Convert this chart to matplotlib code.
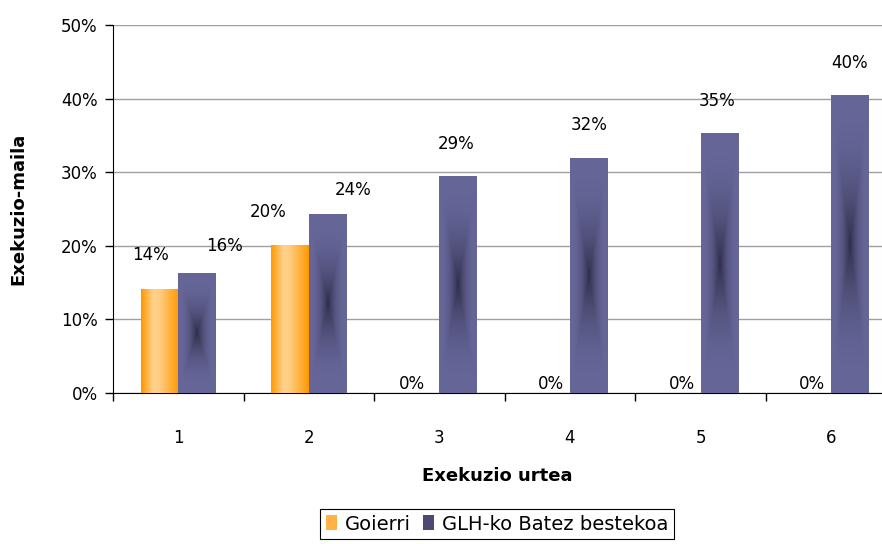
import numpy as np
import matplotlib
matplotlib.use('Agg')
import matplotlib.pyplot as plt
from matplotlib.patches import Patch
from matplotlib.colors import to_rgb

# ── data ────────────────────────────────────────────────
years = [1, 2, 3, 4, 5, 6]
goierri = [14.1, 20.1, 0, 0, 0, 0]
batez = [16.3, 24.3, 29.4, 31.9, 35.2, 40.4]
series_names = ['Goierri', 'GLH-ko Batez bestekoa']
yticks = [0, 10, 20, 30, 40, 50]

# label offsets (pixels) from bar top centre, as Excel placed them
off_goierri = [(-9, 34), (-22, 33), (-9, 9), (0, 9), (0, 9), (0, 9)]
off_batez = [(27, 27), (26, 24), (-2, 33), (0, 33), (-2, 33), (0, 33)]

plt.rcParams['font.family'] = ['DejaVu Sans']

fig = plt.figure(figsize=(8.82, 5.44), dpi=100)
ax = fig.add_axes([113 / 882, 1 - 393 / 544, 1 - 113 / 882, 368 / 544])

x = np.array(years, dtype=float)
w = 0.287

ORANGE = np.array(to_rgb('#FF9900'))
LIGHT = np.array(to_rgb('#FFD28F'))
PURPLE = np.array(to_rgb('#666699'))
DARK = np.array(to_rgb('#2E2E4A'))


def orange_grad(nx=60):
    t = np.linspace(0, 1, nx)
    prof = np.interp(t, [0, 0.33, 0.5, 1.0], [0, 1, 0.9, 0])
    img = ORANGE[None, :] + (LIGHT - ORANGE)[None, :] * prof[:, None]
    return img[None, :, :]


def purple_grad(h_px, w_px=38):
    h_px = max(int(h_px), 2)
    yy, xx = np.mgrid[0:h_px, 0:w_px]
    dx = np.abs((xx + 0.5) / w_px - 0.5) * 2
    dy = np.abs((yy + 0.5) / h_px - 0.5) * 2
    t = np.maximum(dx, dy)
    k = (1 - t) ** 2.4
    return PURPLE[None, None, :] + (DARK - PURPLE)[None, None, :] * k[:, :, None]


px_per_unit = 368 / 50
for xi, g, b in zip(x, goierri, batez):
    if g > 0:
        ax.imshow(orange_grad(), extent=(xi - w, xi, 0, g), aspect='auto',
                  interpolation='bilinear', zorder=3)
    ax.imshow(purple_grad(b * px_per_unit), extent=(xi, xi + w, 0, b),
              aspect='auto', interpolation='bilinear', zorder=3)

for xi, g, b, og, ob in zip(x, goierri, batez, off_goierri, off_batez):
    ax.annotate(f'{g:.0f}%', (xi - w / 2, g), xytext=og, textcoords='offset pixels',
                ha='center', va='center', fontsize=12, zorder=5)
    ax.annotate(f'{b:.0f}%', (xi + w / 2, b), xytext=ob, textcoords='offset pixels',
                ha='center', va='center', fontsize=12, zorder=5)

# axes styling
ax.set_yticks(yticks)
ax.set_yticklabels([f'{v}%' for v in yticks], fontsize=12)
ax.yaxis.grid(True, color='#A0A0A0', linewidth=1)
ax.set_axisbelow(True)
ax.tick_params(axis='y', direction='out', length=6, width=1, pad=5)

ax.set_xticks(x)
ax.set_xticklabels([str(v) for v in years], fontsize=12)
ax.set_xticks(np.arange(0.5, 7, 1), minor=True)
ax.tick_params(axis='x', which='major', length=0, pad=26)
ax.tick_params(axis='x', which='minor', direction='out', length=6, width=1)

ax.set_xlim(0.5, 6.39)
ax.set_ylim(0, 50)

for s in ['top', 'right']:
    ax.spines[s].set_visible(False)
ax.spines['left'].set_color('black')
ax.spines['bottom'].set_color('black')

ax.set_ylabel('Exekuzio-maila', fontsize=13, fontweight='bold', labelpad=24)
ax.set_xlabel('Exekuzio urtea', fontsize=13, fontweight='bold', labelpad=14)

handles = [Patch(facecolor='#FFB347', edgecolor='none'),
           Patch(facecolor='#4A4A75', edgecolor='none')]
leg = fig.legend(handles, series_names, loc='center', bbox_to_anchor=(497 / 882, 1 - 524 / 544),
                 ncol=2, fontsize=14, frameon=True, fancybox=False, edgecolor='black',
                 framealpha=1, handlelength=0.6, handleheight=0.8, handletextpad=0.4,
                 columnspacing=0.6, borderpad=0.3)
leg.get_frame().set_linewidth(0.8)

fig.savefig('out.png', dpi=100)
